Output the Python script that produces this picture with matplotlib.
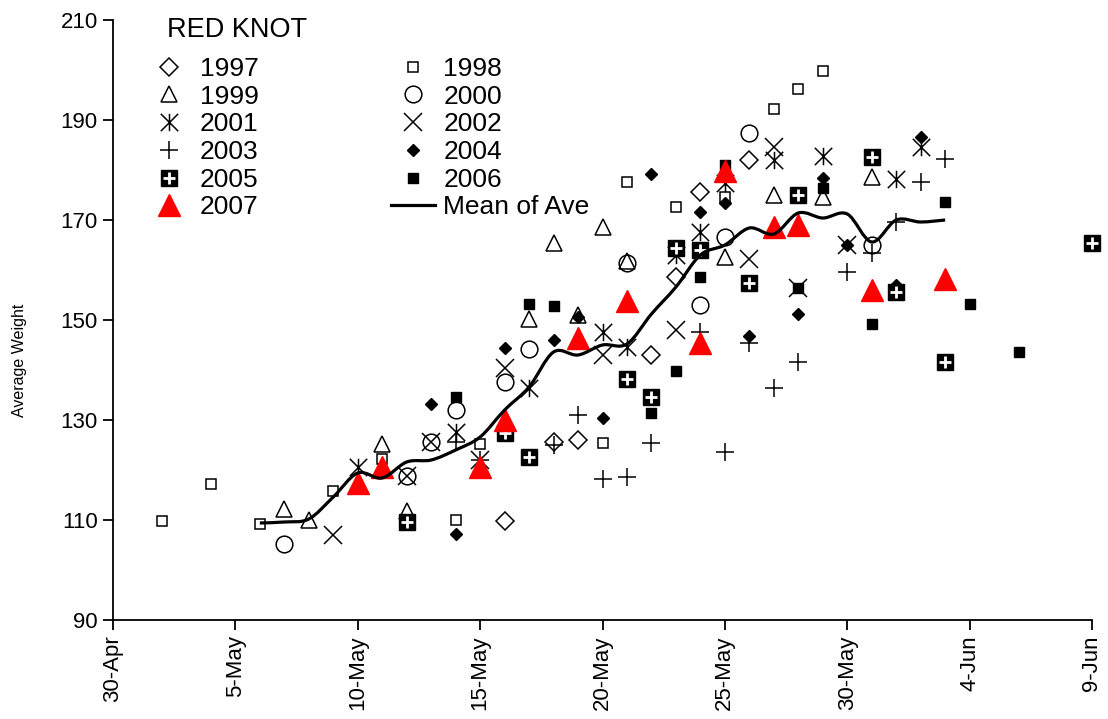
import matplotlib.pyplot as plt
import numpy as np
from matplotlib.path import Path
from matplotlib.patches import PathPatch
from matplotlib.lines import Line2D

plt.rcParams['font.family'] = ['Liberation Sans', 'DejaVu Sans']

# x positions are days counted from 30 April
tick_days = [0, 5, 10, 15, 20, 25, 30, 35, 40]
tick_labels = ['30-Apr', '5-May', '10-May', '15-May', '20-May', '25-May',
               '30-May', '4-Jun', '9-Jun']

day_1997 = [16, 18, 19, 22, 23, 24, 26]
wt_1997 = [109.8, 125.6, 126.0, 143.0, 158.6, 175.6, 182.0]

day_1998 = [2, 4, 6, 9, 11, 14, 15, 20, 21, 23, 25, 27, 28, 29]
wt_1998 = [109.8, 117.2, 109.2, 115.8, 122.2, 110.0, 125.2, 125.4, 177.6,
           172.6, 174.6, 192.2, 196.2, 199.8]

day_1999 = [7, 8, 11, 12, 17, 18, 19, 20, 21, 25, 27, 29, 31]
wt_1999 = [112.2, 110.0, 125.2, 111.8, 150.2, 165.4, 151.0, 168.6, 161.8,
           162.6, 175.0, 174.6, 178.6]

day_2000 = [7, 12, 13, 14, 16, 17, 21, 24, 25, 26, 31]
wt_2000 = [105.2, 118.8, 125.6, 132.0, 137.6, 144.2, 161.4, 153.0, 166.6,
           187.4, 165.0]

day_2001 = [10, 14, 17, 20, 21, 23, 24, 25, 27, 29, 32, 33]
wt_2001 = [120.6, 127.6, 136.4, 147.6, 144.6, 163.0, 167.6, 177.4, 182.0,
           182.8, 178.2, 184.6]

day_2002 = [9, 12, 13, 15, 16, 20, 23, 26, 27, 28, 30]
wt_2002 = [107.0, 118.8, 125.6, 122.0, 140.4, 143.0, 148.0, 162.2, 184.6,
           156.4, 165.0]

day_2003 = [14, 15, 18, 19, 20, 21, 22, 24, 25, 26, 27, 28, 30, 31, 32, 33, 34]
wt_2003 = [125.6, 122.0, 125.0, 131.0, 118.2, 118.6, 125.4, 147.6, 123.6,
           145.4, 136.4, 141.6, 159.6, 163.4, 169.6, 177.6, 182.2]

day_2004 = [13, 14, 16, 18, 19, 20, 22, 24, 25, 26, 28, 29, 30, 32, 33]
wt_2004 = [133.2, 107.2, 144.4, 146.0, 150.6, 130.4, 179.2, 171.6, 173.4,
           146.8, 151.2, 178.4, 165.0, 157.0, 186.6]

day_2005 = [12, 16, 17, 21, 22, 23, 24, 26, 28, 31, 32, 34, 40]
wt_2005 = [109.6, 127.4, 122.6, 138.2, 134.6, 164.4, 164.0, 157.4, 175.0,
           182.6, 155.6, 141.6, 165.4]

day_2006 = [14, 17, 18, 22, 23, 24, 25, 28, 29, 31, 34, 35, 37]
wt_2006 = [134.6, 153.2, 152.8, 131.4, 139.8, 158.6, 181.0, 156.4, 176.4,
           149.2, 173.6, 153.2, 143.6]

day_2007 = [10, 11, 15, 16, 19, 21, 24, 25, 27, 28, 31, 34]
wt_2007 = [117.4, 120.6, 120.6, 130.0, 146.4, 153.8, 145.4, 179.8, 168.6,
           169.0, 156.0, 158.2]

mean_days = list(range(6, 35))
mean_wt = [109.4, 109.6, 110.2, 114.6, 119.4, 118.4, 121.6, 122.0, 124.0,
           126.6, 132.0, 136.6, 143.6, 143.0, 145.0, 145.2, 151.2, 156.6,
           163.0, 165.0, 168.4, 167.2, 171.4, 170.4, 171.2, 165.6, 170.0,
           169.6, 170.0]

# Excel style "star": an X with a vertical bar through it
star = Path([(-1, -1), (1, 1), (-1, 1), (1, -1), (0, -1), (0, 1)],
            [Path.MOVETO, Path.LINETO, Path.MOVETO, Path.LINETO,
             Path.MOVETO, Path.LINETO])

open_kw = dict(linestyle='none', markerfacecolor='none', markeredgecolor='black',
               markeredgewidth=1.1, clip_on=False)

series = [
    ('1997', day_1997, wt_1997, dict(marker='D', markersize=9, **open_kw)),
    ('1998', day_1998, wt_1998, dict(marker='s', markersize=6.5, **open_kw)),
    ('1999', day_1999, wt_1999, dict(marker='^', markersize=11.5, **open_kw)),
    ('2000', day_2000, wt_2000, dict(marker='o', markersize=12, **open_kw)),
    ('2001', day_2001, wt_2001, dict(marker=star, markersize=12.5, **open_kw)),
    ('2002', day_2002, wt_2002, dict(marker='x', markersize=12.5, **open_kw)),
    ('2003', day_2003, wt_2003, dict(marker='+', markersize=13.5, **open_kw)),
    ('2004', day_2004, wt_2004, dict(marker='D', markersize=6, color='black',
                                     linestyle='none', clip_on=False)),
    ('2005', day_2005, wt_2005, None),
    ('2006', day_2006, wt_2006, dict(marker='s', markersize=7, color='black',
                                     linestyle='none', clip_on=False)),
    ('2007', day_2007, wt_2007, dict(marker='^', markersize=15.5, color='red',
                                     linestyle='none', clip_on=False)),
]


def smooth_path(xs, ys):
    # cubic Bezier segments through every point (Catmull-Rom tangents)
    pts = np.column_stack([xs, ys])
    ext = np.vstack([pts[0], pts, pts[-1]])
    verts = [tuple(pts[0])]
    codes = [Path.MOVETO]
    for i in range(1, len(ext) - 2):
        p0, p1, p2, p3 = ext[i - 1], ext[i], ext[i + 1], ext[i + 2]
        c1 = p1 + (p2 - p0) / 6.0
        c2 = p2 - (p3 - p1) / 6.0
        verts += [tuple(c1), tuple(c2), tuple(p2)]
        codes += [Path.CURVE4] * 3
    return Path(verts, codes)


fig = plt.figure(figsize=(11.08, 7.19), dpi=100)
ax = fig.add_axes([113 / 1108, 99 / 719, 979 / 1108, 600 / 719])

handles = {}
for name, days, wts, kw in series:
    if kw is None:
        sq, = ax.plot(days, wts, linestyle='none', marker='s', markersize=11.5,
                      color='black', clip_on=False, zorder=3)
        pl, = ax.plot(days, wts, linestyle='none', marker='+', markersize=8,
                      markeredgecolor='white', markeredgewidth=2,
                      clip_on=False, zorder=3)
        handles[name] = (sq, pl)
    else:
        h, = ax.plot(days, wts, zorder=3, **kw)
        handles[name] = h

ax.add_patch(PathPatch(smooth_path(mean_days, mean_wt), facecolor='none',
                       edgecolor='black', linewidth=2.3, zorder=4))
handles['Mean of Ave'] = Line2D([], [], color='black', linewidth=2.3)

ax.set_xlim(0, 40)
ax.set_ylim(90, 210)
ax.set_xticks(tick_days)
ax.set_xticklabels(tick_labels, rotation=90)
ax.set_yticks(range(90, 211, 20))
ax.spines['top'].set_visible(False)
ax.spines['right'].set_visible(False)
for s in ('left', 'bottom'):
    ax.spines[s].set_linewidth(1.3)
ax.tick_params(direction='out', length=7, width=1.3, labelsize=16, pad=4)
ax.set_ylabel('Average Weight', fontsize=11.5)
ax.yaxis.set_label_coords(-0.088, 0.433)

order = ['1997', '1999', '2001', '2003', '2005', '2007',
         '1998', '2000', '2002', '2004', '2006', 'Mean of Ave']
ax.legend([handles[k] for k in order], order, ncol=2, frameon=False,
          fontsize=19, loc='upper left',
          bbox_to_anchor=(147 / 1108, 1 - 57 / 719),
          bbox_transform=fig.transFigure, borderpad=0, borderaxespad=0,
          labelspacing=0.14, handlelength=1.7, handletextpad=0.3,
          columnspacing=5.0)
fig.text(167 / 1108, 1 - 30 / 719, 'RED KNOT', fontsize=19.5, va='center')

fig.savefig('out.png', dpi=100)
